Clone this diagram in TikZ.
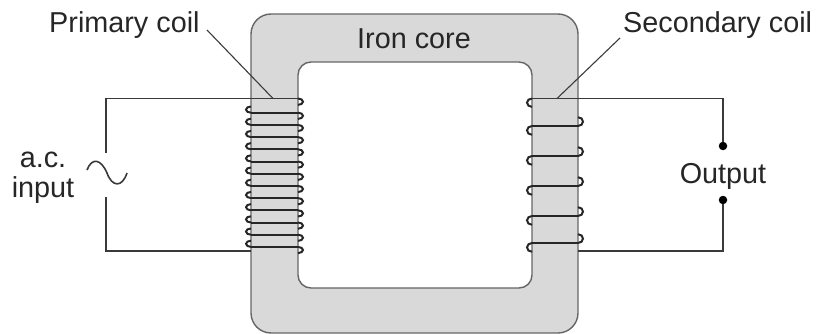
\documentclass[tikz,border=0pt]{standalone}
\usepackage{fontspec}
\setmainfont{Liberation Sans}
\definecolor{coregray}{HTML}{D9D9D9}
\definecolor{coreline}{HTML}{666666}
\definecolor{wiregray}{HTML}{3A3A3A}
\tikzset{x=1pt, y=-1pt, % One unit is one pixel of the layout, y runs down
txt/.style={ % Sets the properties for each text
inner sep=0pt,
text=black!85,
font=\fontsize{28.8}{30}\selectfont},
wire/.style={ % Circuit wires and leader lines
draw=wiregray,
line width=1.6pt},
leader/.style={
draw=wiregray,
line width=1.1pt},
coil/.style={ % Turns in front of the core
draw=black!85,
line width=2pt},
terminal/.style={ % Output dots
circle,
fill=black,
inner sep=0pt,
minimum size=8.5pt}}

\begin{document}
\begin{tikzpicture}
\useasboundingbox (0,0) rectangle (818,334);
% core
\fill[coregray, even odd rule, rounded corners=20pt] (251,14) rectangle (578,333)
  [rounded corners=13pt] (298,62) rectangle (532,288);
\draw[coreline, line width=1.4pt, rounded corners=20pt] (251,14) rectangle (578,333);
\draw[coreline, line width=1.4pt, rounded corners=13pt] (298,62) rectangle (532,288);
% labels
\node[txt, anchor=base west] (primary) at (49,33) {Primary coil};
\node[txt, anchor=base west] (secondary) at (623,33) {Secondary coil};
\node[txt, anchor=base] (core) at (414,49) {Iron core};
\node[txt, align=center] (input) at (43,178) {a.c.\\input};
\node[txt, anchor=base] (output) at (723,183) {Output};
% primary circuit
\coordinate (ptop) at (106,98.5);
\coordinate (pbot) at (106,251);
\coordinate (pin) at (251,251);
\coordinate (pstart) at (298,98.5);
\coordinate (wavea) at (106,153);
\coordinate (waveb) at (106,197);
\draw[wire] (wavea) -- (ptop) -- (pstart);
\draw[wire] (waveb) -- (pbot) -- (pin);
\draw[wire] (87,170) .. controls (92,157) and (101,159) .. (107,173)
  .. controls (112,187) and (122,188) .. (127,173);
\draw[coil] (pstart) arc[start angle=90, end angle=-90, x radius=5pt, y radius=3.2pt];
\foreach \n in {0,...,11} {
  \pgfmathsetmacro{\yy}{112.7+12.2*\n}
  \coordinate (pl\n) at (251,\yy);
  \coordinate (pr\n) at (298,\yy);
  \draw[coil] (pl\n) -- (pr\n);
  \draw[coil] (pl\n) arc[start angle=270, end angle=90, x radius=5pt, y radius=3.1pt];
  \draw[coil] (pr\n) arc[start angle=90, end angle=-90, x radius=5pt, y radius=3.1pt];
}
% secondary circuit
\coordinate (sl0) at (532,98.5);
\coordinate (stop) at (723,98.5);
\coordinate (sbot) at (723,251);
\coordinate (sout) at (578,251);
\node[terminal] (outa) at (723,146) {};
\node[terminal] (outb) at (723,200) {};
\draw[wire] (outa) -- (stop) -- (sl0);
\draw[wire] (outb) -- (sbot) -- (sout);
\draw[coil] (sl0) arc[start angle=90, end angle=270, x radius=5pt, y radius=4.2pt];
\foreach \n/\yy in {1/126,2/156,3/186,4/216,5/243} {
  \coordinate (sl\n) at (532,\yy);
  \coordinate (sr\n) at (578,\yy);
  \draw[coil] (sl\n) -- (sr\n);
  \draw[coil] (sl\n) arc[start angle=90, end angle=270, x radius=5pt, y radius=4.4pt];
  \draw[coil] (sr\n) arc[start angle=-90, end angle=90, x radius=5pt, y radius=4.4pt];
}
% leaders
\coordinate (pfoot) at (273,98.5);
\coordinate (sfoot) at (557,98.5);
\draw[leader] (207,30) -- (pfoot);
\draw[leader] (620,38) -- (sfoot);
\end{tikzpicture}
\end{document}
